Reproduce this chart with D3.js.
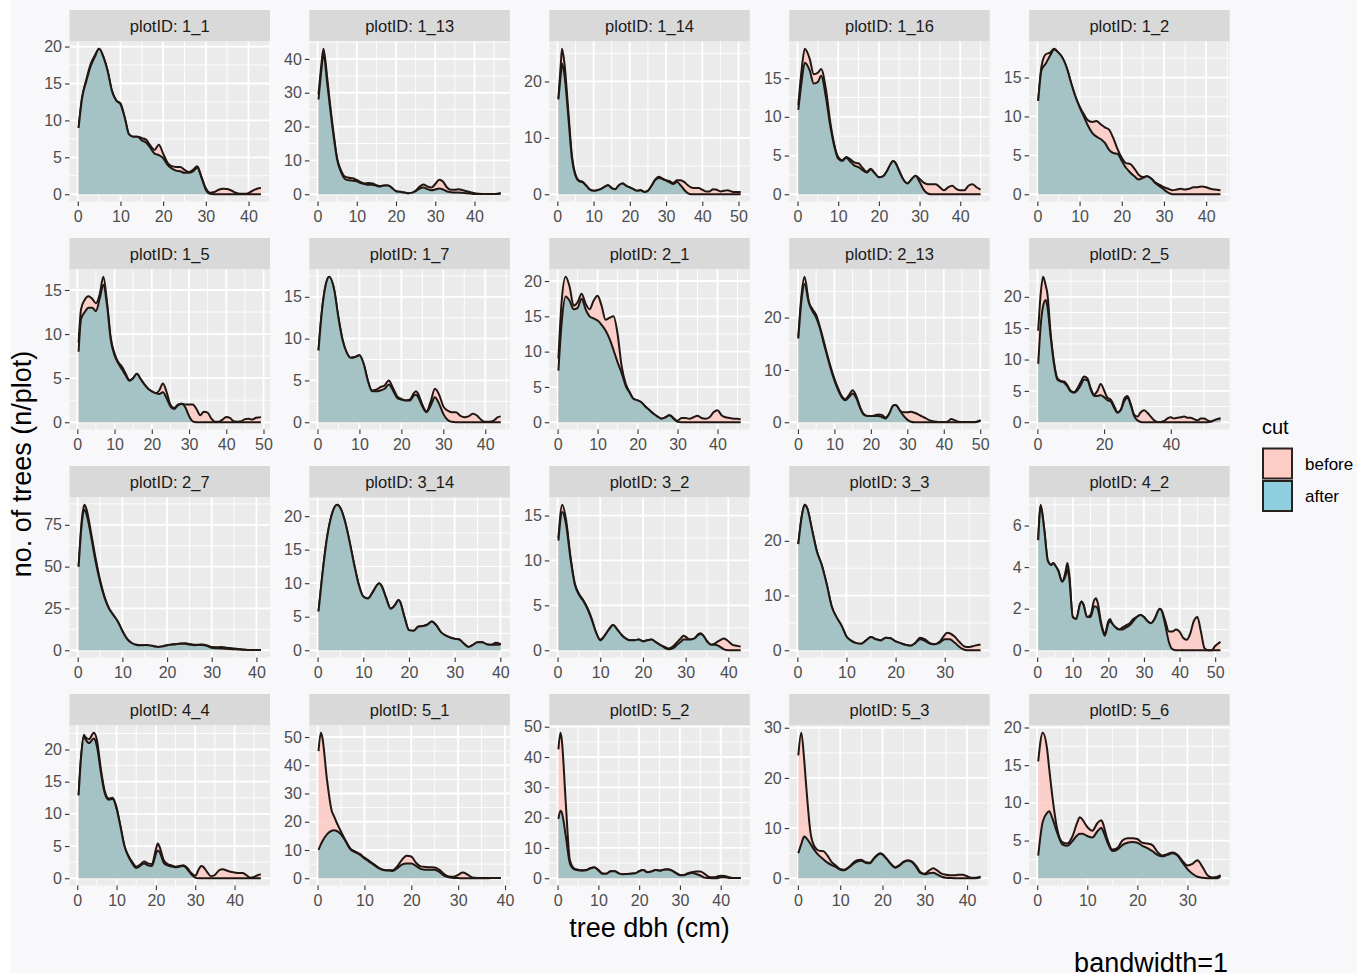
<!DOCTYPE html>
<html>
<head>
<meta charset="utf-8">
<script src="https://cdn.jsdelivr.net/npm/d3@7"></script>
<style>
  html, body { margin: 0; padding: 0; background: #ffffff; }
  svg { display: block; font-family: "Liberation Sans", Arial, Helvetica, sans-serif; }
</style>
</head>
<body>
<svg id="chart" width="1365" height="977"></svg>
<script>
// ---- facets -------------------------------------------------------------
const plotIDs = ["1_1", "1_13", "1_14", "1_16", "1_2",
                 "1_5", "1_7", "2_1", "2_13", "2_5",
                 "2_7", "3_14", "3_2", "3_3", "4_2",
                 "4_4", "5_1", "5_2", "5_3", "5_6"];
const cutLevels = ["before", "after"];

// axis breaks per facet (free scales)
const xBreaks = [
  [0,10,20,30,40], [0,10,20,30,40], [0,10,20,30,40,50], [0,10,20,30,40], [0,10,20,30,40],
  [0,10,20,30,40,50], [0,10,20,30,40], [0,10,20,30,40], [0,10,20,30,40,50], [0,20,40],
  [0,10,20,30,40], [0,10,20,30,40], [0,10,20,30,40], [0,10,20,30], [0,10,20,30,40,50],
  [0,10,20,30,40], [0,10,20,30,40], [0,10,20,30,40], [0,10,20,30,40], [0,10,20,30]
];
const yBreaks = [
  [0,5,10,15,20], [0,10,20,30,40], [0,10,20], [0,5,10,15], [0,5,10,15],
  [0,5,10,15], [0,5,10,15], [0,5,10,15,20], [0,10,20], [0,5,10,15,20],
  [0,25,50,75], [0,5,10,15,20], [0,5,10,15], [0,10,20], [0,2,4,6],
  [0,5,10,15,20], [0,10,20,30,40,50], [0,10,20,30,40,50], [0,10,20,30], [0,5,10,15,20]
];

// ---- density curves (trees per plot) on each facet's dbh grid -------------
const dbh_1_1 = [0.2,1,2,3,4,5,6,7,8,9, 10,11,12,13,14,15,16,17,18,19, 20,21,22,23,24,25,26,27,28,29, 30,31,32,33,34,35,36,37,38,39, 40,41,42,42.9];
const before_1_1 = [9,13,15.5,17.6,18.8,19.7,18.6,16.7,14,12.7, 12.3,10.4,8.1,7.8,7.8,7.6,7.4,6.6,6.0,6.7, 5.5,4.3,3.8,3.7,3.7,3.3,3.0,3.3,3.8,2.3, 0.8,0.2,0.3,0.6,0.75,0.7,0.5,0.2,0.05,0.05, 0.15,0.5,0.75,0.85];
const after_1_1 = [9,13,15.3,17.3,18.6,19.7,18.6,16.7,14,12.7, 12.2,10.4,8.1,7.8,7.8,7.3,7.0,6.3,5.5,5.3, 4.9,4.0,3.5,3.2,3.1,2.9,2.9,3.1,3.6,2.2, 0.6,0.05,0,0,0,0,0,0,0,0, 0,0,0,0];

const dbh_1_13 = [0.25,1,1.5,2.5,3,4,5,6,7,8, 9,10,11,12,13,14,15,16,17,18, 19,20,21,22,23,24,25,26,27,28, 29,30,31,32,33,34,35,36,37,38, 39,40,41,42,43,44,45,46,46.7];
const before_1_13 = [29.5,38.5,43,34,28.6,18.8,10.6,7,5.2,4.9, 4.7,4.2,3.6,3.2,3.3,3.2,2.7,2.4,2.6,2.6, 1.8,0.9,0.7,0.5,0.3,0.4,1.0,2.2,2.9,2.3, 2.0,3.0,4.3,3.7,2.0,1.3,1.3,1.5,1.2,0.9, 0.6,0.3,0.15,0.1,0.1,0.1,0.1,0.2,0.3];
const after_1_13 = [28,37,41.5,32.5,27.5,18,10.2,6.5,4.5,4.1, 4.0,3.8,3.3,3.0,2.8,2.8,2.5,2.3,2.6,2.6, 1.8,0.9,0.7,0.5,0.3,0.4,0.9,1.7,2.0,1.5, 1.2,1.4,1.7,1.4,0.8,0.6,0.5,0.5,0.4,0.3, 0.2,0.1,0.05,0.05,0.05,0.05,0.05,0.1,0.2];

const dbh_1_14 = [0.3,1,1.3,2,3,4,5,6,7,8, 9,10,11,12,13,14,15,16,17,18, 19,20,21,22,23,24,25,26,27,28, 29,30,31,32,33,34,35,36,37,38, 39,40,41,42,43,44,45,46,47,48, 49,50,50.6];
const before_1_14 = [17,23.5,25.8,23,15,7,3.5,2.4,2.2,1.5, 0.8,0.6,0.7,0.9,1.3,1.6,1.1,0.9,1.6,1.9, 1.5,1.2,0.9,0.6,0.7,0.4,0.6,1.5,2.6,3.1, 2.8,2.5,2.3,2.0,2.5,2.5,2.2,1.6,1.2,1.1, 1.1,0.8,0.5,0.5,0.9,0.8,0.5,0.6,0.7,0.5, 0.4,0.4,0.4];
const after_1_14 = [16.8,21.5,23.2,21,14,6.5,3.3,2.3,2.1,1.5, 0.8,0.6,0.7,0.9,1.3,1.6,1.1,0.9,1.6,1.9, 1.5,1.2,0.9,0.6,0.7,0.4,0.6,1.5,2.5,2.9, 2.7,2.4,2.1,1.8,2.2,1.6,0.8,0.2,0,0, 0,0,0,0,0,0,0,0,0,0, 0,0,0];

const dbh_1_16 = [0.2,1,1.8,3,4,5,5.8,7,8,9, 10,11,12,13,14,15,16,17,18,19, 20,21,22,23,23.5,24,25,26,27,28, 29,30,31,32,33,34,35,36,37,38, 39,40,41,42,43,44,45];
const before_1_16 = [11.5,16,18.8,17.5,15.5,15.7,16.2,13.5,9.5,6.5, 4.8,4.4,4.8,4.5,4.1,4.0,3.4,2.9,3.3,2.7, 2.2,2.3,3.0,4.0,4.3,4.1,3.0,1.9,1.4,1.9, 2.4,2.0,1.5,1.3,1.3,1.3,0.9,0.5,0.9,1.1, 0.7,0.5,0.5,1.1,1.3,0.9,0.6];
const after_1_16 = [10.9,14.5,17,16,14.3,14.5,15.3,12.5,9,6.3, 4.6,4.3,4.7,4.2,3.7,3.5,3.1,2.8,3.2,2.7, 2.2,2.3,3.0,4.0,4.3,4.1,3.0,1.9,1.4,1.9, 2.4,1.6,0.6,0.1,0,0,0,0,0,0, 0,0,0,0,0,0,0];

const dbh_1_2 = [0.2,1,2,3,4,5,6,7,8,9, 10,11,12,13,14,15,16,17,18,19, 20,21,22,23,24,25,26,27,28,29, 30,31,32,33,34,35,36,37,38,39, 40,41,42,43.4];
const before_1_2 = [12,16.5,18.0,18.2,18.7,18.2,17.5,16.2,14.3,12.6, 11.3,10.3,9.5,9.3,9.4,9.0,8.6,8.3,7.2,5.8, 4.7,4.0,3.9,3.3,2.5,2.2,2.3,2.0,1.5,1.2, 0.9,0.7,0.5,0.6,0.7,0.6,0.7,0.9,0.9,1.0, 0.9,0.7,0.6,0.5];
const after_1_2 = [12,16.0,16.8,17.8,18.6,18.2,17.5,16.2,14.3,12.6, 11.2,10.0,8.8,7.9,7.4,7.1,6.6,5.7,5.3,5.2, 4.3,3.4,2.8,2.3,1.9,2.1,2.3,2.0,1.4,1.0, 0.6,0.2,0,0,0,0,0,0,0,0, 0,0,0,0];

const dbh_1_5 = [0.35,1,2,3,4,5,6,7,8,9, 10,11,12,13,14,15,16,17,18,19, 20,21,22,23,24,25,26,27,28,29, 30,31,32,33,34,35,36,37,38,39, 40,41,42,43,44,45,46,47,48,49, 49.3];
const before_1_5 = [9,12.8,13.9,14.3,14.0,13.5,14.5,16.5,13.5,9.5, 7.8,6.8,6.3,5.5,4.8,5.0,5.5,4.9,4.3,3.8, 3.5,3.3,3.6,4.4,3.4,2.0,1.6,2.0,2.1,2.0, 2.0,2.0,1.5,0.8,1.2,1.1,0.4,0.05,0.05,0.3, 0.6,0.5,0.1,0.05,0.1,0.35,0.4,0.3,0.5,0.55, 0.6];
const after_1_5 = [8,11.7,12.5,13.0,13.0,12.6,14,15.6,13.2,9.3, 7.6,6.7,6.0,5.3,4.7,5.0,5.5,4.9,4.3,3.8, 3.5,3.3,3.2,3.4,2.7,1.8,1.5,1.9,2.1,1.7, 0.7,0.1,0,0,0,0,0,0,0,0, 0,0,0,0,0,0,0,0,0,0, 0];

const dbh_1_7 = [0.25,1,2,2.8,4,5,6,7,8,9, 10,11,12,13,14,15,16,17,18,19, 20,21,22,23,23.5,24,25,26,27,28, 29,30,31,32,33,34,35,36,37,38, 39,40,41,42,43,43.7];
const before_1_7 = [8.6,13,16.5,17.4,15.8,12.5,9.8,8.3,7.7,7.8, 8.0,7.0,5.0,3.8,3.9,4.2,4.4,5.0,4.1,3.1, 2.8,2.6,2.7,3.5,3.7,3.4,2.1,1.3,2.5,4.0, 3.3,1.9,1.4,1.2,1.2,0.8,0.6,0.7,1.0,0.8, 0.3,0.05,0.05,0.2,0.6,0.7];
const after_1_7 = [8.6,13,16.5,17.4,15.8,12.5,9.8,8.3,7.7,7.8, 8.0,7.0,5.0,3.7,3.7,3.8,4.0,4.5,3.8,2.9, 2.7,2.6,2.6,3.2,3.3,3.0,1.9,1.2,2.0,3.0, 2.2,1.0,0.3,0.05,0,0,0,0,0,0, 0,0,0,0,0,0];

const dbh_2_1 = [0.2,1,2,3,4,5,6,7,8,9, 10,11,12,13,14,15,16,17,18,19, 20,21,22,23,24,25,26,27,28,29, 30,31,32,33,34,35,36,37,38,39, 40,41,42,43,44,45,45.8];
const before_2_1 = [9,17,20.6,19.2,16.5,17.0,18.2,16.8,16.0,17.2, 17.9,16.5,14.5,14.8,15.0,12.5,8.0,5.5,4.3,3.3, 3.1,2.8,2.2,1.7,1.2,0.8,0.5,0.7,1.0,0.6, 0.2,0.6,0.6,0.5,0.7,0.9,0.6,0.5,0.7,1.4, 1.7,1.0,0.7,0.6,0.5,0.5,0.4];
const after_2_1 = [7.3,14,17.8,17.2,16.0,16.2,17.5,16.0,15.0,14.7, 14.4,13.8,13.0,11.8,10.2,8.5,7.0,5.2,4.2,3.3, 3.1,2.8,2.2,1.7,1.2,0.8,0.5,0.7,1.0,0.5, 0.05,0,0,0,0,0,0,0,0,0, 0,0,0,0,0,0,0];

const dbh_2_13 = [0.1,1,1.8,3,4,5,6,7,8,9, 10,11,12,13,14,15,16,17,18,19, 20,21,22,23,24,25,26,26.5,27,28, 29,30,31,32,33,34,35,36,37,38, 39,40,41,42,43,44,45,46,47,48, 49,50.1];
const before_2_13 = [16.2,24.5,27.8,23,21.6,20.5,18.3,15.7,13,10.5, 8.3,6.5,5.0,4.4,5.2,6.1,5.0,3.0,1.6,1.2, 1.2,1.3,1.5,1.4,0.9,1.5,3.0,3.3,3.2,2.2, 1.9,1.9,2.0,1.8,1.5,1.1,0.8,0.4,0.2,0.1, 0.05,0.05,0.1,0.6,0.4,0.1,0.05,0.05,0.05,0.05, 0.1,0.4];
const after_2_13 = [16,23.5,26.4,22.8,21.2,20,18,15.3,12.7,10.2, 8,6.2,4.8,4.2,4.8,5.5,4.6,2.8,1.5,1.2, 1.2,1.2,1.2,1.0,0.7,1.6,3.1,3.3,3.2,2.2, 1.2,0.5,0.1,0,0,0,0,0,0,0, 0,0,0,0,0,0,0,0,0,0, 0.05,0.3];

const dbh_2_5 = [0.25,1,1.7,2.5,3,4,5,6,7,8, 9,10,11,12,13,14,15,16,17,18, 19,20,21,22,23,24,25,26,27,28, 29,30,31,32,33,34,35,36,37,38, 39,40,41,42,43,44,45,46,47,48, 49,50,51,52,53,54,54.9];
const before_2_5 = [14.6,20.5,23.2,21.8,20.5,14,9.5,7.0,6.6,6.5, 5.9,5.0,4.8,5.4,6.4,7.3,7.0,5.4,4.4,5.0, 6.1,5.1,3.9,3.6,2.6,1.6,2.0,3.7,4.2,2.9, 1.2,0.9,1.6,1.9,1.5,0.9,0.3,0.05,0.05,0.2, 0.6,0.8,0.6,0.7,0.8,0.9,0.7,0.7,0.5,0.3, 0.6,0.6,0.3,0.1,0.3,0.5,0.6];
const after_2_5 = [9.3,15.5,18.5,19.5,18.5,13.5,9.2,6.8,6.5,6.3, 5.7,4.9,4.7,5.1,5.9,6.8,6.7,5.2,4.2,4.2, 4.3,4.0,3.5,3.3,2.3,1.5,1.9,3.3,3.9,2.7, 1.0,0.3,0.05,0,0,0,0,0,0,0, 0,0,0,0,0,0,0,0,0,0, 0,0,0,0.1,0.3,0.5,0.6];

const dbh_2_7 = [0.2,1,1.5,2,3,4,5,6,7,8, 9,10,11,12,13,14,15,16,17,18, 19,20,21,22,23,24,25,26,27,28, 29,30,31,32,33,34,35,36,37,38, 39,40,41];
const before_2_7 = [50,80,87,84,70,55,42,32,25,21, 17,11.5,7,4.5,3.3,3.0,3.1,2.9,2.4,2.0, 2.3,3.0,3.5,3.8,4.0,4.2,3.8,3.3,3.3,3.5, 2.8,1.9,1.8,1.9,1.6,1.3,1.1,0.8,0.4,0.2, 0.1,0.1,0.1];
const after_2_7 = [50,78,84,81,68,53,41,31.5,25,21, 17,11.5,7,4.5,3.3,3.0,3.1,2.9,2.4,2.0, 2.3,3.0,3.3,3.6,3.8,3.8,3.4,3.0,3.1,3.2, 2.5,1.5,1.2,1.1,0.9,0.7,0.6,0.5,0.3,0.2, 0.1,0.1,0.1];

const dbh_3_14 = [0.2,1,2,3,4.3,5,6,7,8,9, 10,11,12,13,13.5,14,15,16,17,17.7, 18,19,20,21,22,23,24,25,26,27, 28,29,30,31,32,33,34,35,36,37, 38,39,40.1];
const before_3_14 = [5.8,11,16.5,20,21.7,21.2,19.2,16.2,12.8,9.8, 8.0,7.7,8.6,9.7,10.0,9.6,7.8,6.2,6.8,7.5, 7.3,5.0,3.0,2.9,3.5,3.6,3.8,4.3,3.7,2.7, 2.2,1.9,1.7,1.6,1.0,0.5,0.8,1.2,1.2,0.9, 0.8,1.1,0.9];
const after_3_14 = [5.8,11,16.5,20,21.7,21.2,19.2,16.2,12.8,9.8, 8.0,7.7,8.6,9.7,10.0,9.6,7.8,6.2,6.8,7.5, 7.3,5.0,3.0,2.9,3.5,3.6,3.8,4.3,3.7,2.7, 2.2,1.9,1.7,1.6,1.0,0.5,0.8,1.2,1.2,0.9, 0.8,0.8,0.9];

const dbh_3_2 = [0.2,1.1,2,3,4,5,6,7,8,9, 10,11,12,13,14,15,16,17,18,19, 20,21,22,23,24,25,26,27,28,29, 29.5,30,31,32,33,33.5,34,35,36,37, 38,39,40,41,42,42.9];
const before_3_2 = [12.5,16.2,14.5,10.5,7.5,6.3,5.6,4.7,3.5,2.0, 1.2,1.6,2.3,2.8,2.3,1.7,1.3,1.1,1.1,1.2, 1.0,1.1,1.2,0.9,0.6,0.4,0.2,0.4,0.9,1.4, 1.6,1.5,1.2,1.3,1.8,1.9,1.7,1.0,0.6,0.8, 1.1,1.3,1.0,0.6,0.5,0.4];
const after_3_2 = [12.2,15.4,14.0,10.3,7.4,6.2,5.5,4.6,3.4,2.0, 1.1,1.6,2.3,2.8,2.3,1.7,1.3,1.1,1.1,1.2, 1.0,1.1,1.2,0.9,0.6,0.3,0.1,0.2,0.6,1.0, 1.2,1.2,1.2,1.3,1.7,1.8,1.7,1.0,0.6,0.6, 0.4,0.1,0,0,0,0];

const dbh_3_3 = [0.2,1,1.5,2,3,4,5,6,7,8, 9,10,11,12,13,14,15,16,17,18, 19,20,21,22,23,24,25,26,27,28, 29,30,30.5,31,32,33,34,35,36,37, 37.3];
const before_3_3 = [19.4,25,26.6,26,22,18,15.5,12,8,6, 4.5,2.5,1.7,1.3,1.2,1.8,2.4,2.0,1.8,2.3, 2.2,1.6,1.3,1.0,0.8,1.3,2.3,2.0,1.3,1.1, 1.6,2.8,3.2,3.1,2.5,1.5,0.7,0.6,0.8,1.0, 1.0];
const after_3_3 = [19.4,25,26.6,26,22,18,15.5,12,8,6, 4.5,2.5,1.7,1.3,1.2,1.8,2.4,2.0,1.8,2.3, 2.2,1.6,1.3,1.0,0.8,1.3,2.0,1.7,1.2,1.1, 1.4,2.0,2.0,2.0,1.4,0.6,0.1,0,0,0, 0];

const dbh_4_2 = [0.3,1,2,3,4,4.5,5,6,7,8, 8.5,9,10,11,12,12.5,13,14,15,16, 16.5,17,18,19,20,20.5,21,22,23,24, 25,26,27,28,29,30,31,32,33,34, 34.5,35,36,37,38,39,40,41,42,43, 44,45,46,47,48,49,50,51.5];
const before_4_2 = [5.3,7.0,5.8,4.3,4.1,4.2,4.1,3.8,3.3,3.8, 4.2,3.7,1.6,1.5,2.2,2.35,2.2,1.6,1.7,2.4, 2.5,2.3,1.3,0.8,1.4,1.5,1.3,1.1,1.0,1.1, 1.2,1.3,1.5,1.6,1.7,1.6,1.4,1.3,1.5,1.9, 2.0,1.9,1.4,0.9,0.9,1.0,0.9,0.6,0.5,0.8, 1.4,1.6,0.9,0.1,0,0,0.2,0.4];
const after_4_2 = [5.3,6.9,5.8,4.3,4.1,4.2,4.1,3.8,3.3,3.6, 3.9,3.5,1.6,1.5,2.2,2.35,2.2,1.6,1.6,2.1, 2.1,2.0,1.2,0.7,1.3,1.4,1.3,1.1,1.0,1.0, 1.1,1.2,1.4,1.6,1.7,1.6,1.4,1.3,1.5,1.9, 2.0,1.9,1.2,0.4,0.05,0,0,0,0,0, 0,0,0,0,0,0,0,0];

const dbh_4_4 = [0.35,1,1.7,2,3,4.2,5,6,7,8, 9,10,11,12,13,14,15,16,17,18, 19,20,20.5,21,22,23,24,25,26,27, 28,29,30,31,31.5,32,33,34,35,36, 37,38,39,40,41,42,43,44,45,46, 46.7];
const before_4_4 = [12.9,19,22.3,22,21.6,22.6,21.5,17,13.5,12.4, 12.5,11.0,8,5,3.5,2.5,1.8,2.1,2.6,2.3, 2.2,4.5,5.4,4.8,2.8,2.2,2.0,1.8,1.9,2.0, 1.6,0.8,0.4,1.5,1.9,1.8,1.0,0.3,0.5,1.2, 1.4,1.2,1.0,0.9,0.8,0.8,0.5,0.1,0.2,0.5, 0.6];
const after_4_4 = [12.9,19,22,21.7,21,21.7,20.5,16.5,13.2,12.2, 12.3,10.8,8,5,3.4,2.3,1.6,1.9,2.3,2.0, 1.9,3.8,4.3,4.0,2.4,2.0,1.8,1.7,1.8,1.9, 1.4,0.6,0.1,0,0,0,0,0,0,0, 0,0,0,0,0,0,0,0,0,0, 0];

const dbh_5_1 = [0.2,0.7,1,2,3,3.5,4,5,6,7, 8,9,10,11,12,13,14,15,16,17, 18,19,20,21,22,23,24,25,26,27, 28,29,30,31,32,33,34,35,36,37, 38,39.1];
const before_5_1 = [45,51.5,50,35,24,22,20,16.5,13.3,10.5, 9.5,8.6,7.3,6.2,5.0,3.8,3.0,2.8,2.8,4.2, 6.5,8.0,7.7,5.5,4.2,4.0,3.9,3.8,3.0,1.5, 0.6,0.5,1.2,2.0,1.3,0.3,0.1,0.05,0.05,0.05, 0.05,0.1];
const after_5_1 = [10,12,13,15.5,16.8,17,16.8,15.5,13,10.2, 9.2,8.3,7.0,5.9,4.7,3.6,2.9,2.7,2.6,3.6, 4.8,5.2,5.2,4.4,3.3,3.0,3.0,3.0,2.2,0.9, 0.3,0.1,0.05,0,0,0,0,0,0,0.05, 0.05,0.1];

const dbh_5_2 = [0.2,0.7,1,2,3,4,5,6,7,8, 9,10,11,12,13,14,15,16,17,18, 19,20,21,22,23,24,25,26,27,28, 29,30,31,32,33,34,35,36,37,38, 39,40,41,42,43,44,44.9];
const before_5_2 = [42.5,48,46,25,6,3.3,2.8,2.6,2.7,3.3, 3.6,2.7,1.6,1.5,2.3,2.3,1.6,1.3,1.4,1.5, 1.6,2.3,2.7,2.0,2.2,2.7,2.5,2.8,3.0,2.6, 1.8,1.1,1.1,1.7,2.0,2.2,2.2,1.5,0.5,0.3, 0.5,0.8,0.7,0.3,0.1,0.1,0.1];
const after_5_2 = [19.6,22.3,21.8,14,5,3.0,2.6,2.5,2.6,3.2, 3.5,2.6,1.5,1.5,2.3,2.3,1.6,1.3,1.4,1.5, 1.6,2.3,2.7,2.0,2.2,2.7,2.5,2.8,2.9,2.5, 1.7,1.0,1.0,1.5,1.7,1.4,0.9,0.2,0.05,0, 0,0.3,0.3,0.1,0.05,0.05,0.05];

const dbh_5_3 = [0.1,0.8,1.5,2,3,4,5,6,7,8, 9,10,11,12,13,14,15,16,17,18, 19,19.5,20,21,22,23,24,25,26,27, 28,29,30,31,32,33,34,35,36,37, 38,39,40,41,42,43.2];
const before_5_3 = [24.5,29,23.5,18,9,6.2,5.5,5.4,4.5,3.2, 2.5,1.8,1.7,2.2,3.0,3.6,3.7,3.2,3.1,4.0, 4.8,5.0,4.8,3.9,2.9,2.2,2.6,3.3,3.6,3.3, 2.4,1.2,0.9,1.5,2.0,1.5,0.9,0.7,0.6,0.6, 0.7,0.7,0.4,0.1,0.1,0.3];
const after_5_3 = [5,6.8,8.3,8.0,6.8,5.5,4.5,3.8,3.1,2.6, 2.2,1.7,1.6,2.1,2.8,3.3,3.5,3.1,3.0,3.9, 4.7,4.9,4.7,3.8,2.8,2.1,2.5,3.2,3.5,3.2, 2.2,1.0,0.8,1.0,1.1,0.7,0.3,0.1,0.05,0, 0,0,0,0,0,0.2];

const dbh_5_6 = [0.2,1.1,2,2.4,3,4,5,6,7,8, 8.5,9,10,11,12,12.8,13,14,15,16, 17,18,19,20,21,22,23,24,25,26, 27,28,29,30,31,32,33,34,35,36, 36.6];
const before_5_6 = [15.5,19.3,17,14.5,11,6.5,4.8,4.6,5.5,7.4, 8.1,7.8,6.8,6.3,7.3,7.7,7.5,5.2,3.8,4.0, 5.0,5.3,5.3,5.2,4.7,4.6,4.4,3.5,3.0,3.2, 3.4,3.1,2.3,1.7,1.9,2.4,1.5,0.4,0.1,0.2, 0.4];
const after_5_6 = [3.0,7.5,8.7,8.9,8.0,6.0,4.5,4.3,4.9,5.7, 5.9,5.9,5.6,5.4,6.2,6.7,6.5,4.8,3.6,3.8, 4.4,4.7,4.8,4.7,4.3,4.0,3.6,3.1,2.9,3.1, 3.3,3.0,2.1,1.2,0.6,0.2,0.05,0,0,0, 0.3];

const dbhGrids = [dbh_1_1, dbh_1_13, dbh_1_14, dbh_1_16, dbh_1_2, dbh_1_5, dbh_1_7, dbh_2_1, dbh_2_13, dbh_2_5,
                  dbh_2_7, dbh_3_14, dbh_3_2, dbh_3_3, dbh_4_2, dbh_4_4, dbh_5_1, dbh_5_2, dbh_5_3, dbh_5_6];
const beforeSeries = [before_1_1, before_1_13, before_1_14, before_1_16, before_1_2, before_1_5, before_1_7, before_2_1, before_2_13, before_2_5,
                      before_2_7, before_3_14, before_3_2, before_3_3, before_4_2, before_4_4, before_5_1, before_5_2, before_5_3, before_5_6];
const afterSeries = [after_1_1, after_1_13, after_1_14, after_1_16, after_1_2, after_1_5, after_1_7, after_2_1, after_2_13, after_2_5,
                     after_2_7, after_3_14, after_3_2, after_3_3, after_4_2, after_4_4, after_5_1, after_5_2, after_5_3, after_5_6];

// ---- layout & style ------------------------------------------------------
const svg = d3.select("#chart");
const plotBg = "#f8f8fb";
const fills = { before: "rgba(253,203,196,0.86)", after: "rgba(150,192,196,0.86)" };
const keyFills = { before: "#fdcdc6", after: "#8fcfe0" };
const lineColor = "#211611";

const colLeft = 69.5, colPitch = 239.9, panelW = 200.5;
const rowTop = 10, rowPitch = 228, stripH = 31.5, panelH = 160;

svg.append("rect").attr("x", 10).attr("y", 0).attr("width", 1347).attr("height", 973).attr("fill", plotBg);

function minorBreaks(b, lim) {
  const step = b[1] - b[0];
  const ext = [b[0] - step, ...b, b[b.length - 1] + step];
  const out = [];
  for (let k = 0; k < ext.length - 1; k++) {
    const m = (ext[k] + ext[k + 1]) / 2;
    if (m >= lim[0] && m <= lim[1]) out.push(m);
  }
  return out;
}

plotIDs.forEach((id, i) => {
  const r = Math.floor(i / 5), c = i % 5;
  const px = colLeft + c * colPitch;
  const st = rowTop + r * rowPitch;
  const py = st + stripH;

  const dbh = dbhGrids[i];
  const series = { before: beforeSeries[i], after: afterSeries[i] };
  const lo = dbh[0], hi = dbh[dbh.length - 1], span = hi - lo;
  const ymax = d3.max([...series.before, ...series.after]);

  const x = d3.scaleLinear().domain([lo - 0.05 * span, hi + 0.05 * span]).range([px, px + panelW]);
  const y = d3.scaleLinear().domain([-0.05 * ymax, 1.05 * ymax]).range([py + panelH, py]);

  const g = svg.append("g").attr("class", "facet");

  // strip
  g.append("rect").attr("x", px).attr("y", st).attr("width", panelW).attr("height", stripH).attr("fill", "#d9d9d9");
  g.append("text").attr("x", px + panelW / 2).attr("y", st + stripH / 2 + 6)
    .attr("text-anchor", "middle").attr("font-size", 16.5).attr("fill", "#1a1a1a")
    .text("plotID: " + id);

  // panel background + grid
  g.append("rect").attr("x", px).attr("y", py).attr("width", panelW).attr("height", panelH).attr("fill", "#ebebeb");
  const xd = x.domain(), yd = y.domain();
  const xMaj = xBreaks[i].filter(v => v >= xd[0] && v <= xd[1]);
  const yMaj = yBreaks[i].filter(v => v >= yd[0] && v <= yd[1]);
  const grid = g.append("g").attr("stroke", "#ffffff");
  minorBreaks(xBreaks[i], xd).forEach(v => grid.append("line").attr("x1", x(v)).attr("x2", x(v)).attr("y1", py).attr("y2", py + panelH).attr("stroke-width", 0.9));
  minorBreaks(yBreaks[i], yd).forEach(v => grid.append("line").attr("y1", y(v)).attr("y2", y(v)).attr("x1", px).attr("x2", px + panelW).attr("stroke-width", 0.9));
  xMaj.forEach(v => grid.append("line").attr("x1", x(v)).attr("x2", x(v)).attr("y1", py).attr("y2", py + panelH).attr("stroke-width", 1.8));
  yMaj.forEach(v => grid.append("line").attr("y1", y(v)).attr("y2", y(v)).attr("x1", px).attr("x2", px + panelW).attr("stroke-width", 1.8));

  // density areas with upper outline
  const area = d3.area().x((d, k) => x(dbh[k])).y0(y(0)).y1(d => y(d)).curve(d3.curveMonotoneX);
  const line = d3.line().x((d, k) => x(dbh[k])).y(d => y(d)).curve(d3.curveMonotoneX);
  cutLevels.forEach(cut => {
    g.append("path").attr("d", area(series[cut])).attr("fill", fills[cut]);
    g.append("path").attr("d", line(series[cut])).attr("fill", "none")
      .attr("stroke", lineColor).attr("stroke-width", 2).attr("stroke-linejoin", "round");
  });

  // axes
  const yAxis = g.append("g").attr("transform", `translate(${px},0)`)
    .call(d3.axisLeft(y).tickValues(yMaj).tickSize(4.5).tickPadding(3).tickFormat(d3.format("d")));
  const xAxis = g.append("g").attr("transform", `translate(0,${py + panelH})`)
    .call(d3.axisBottom(x).tickValues(xMaj).tickSize(4.5).tickPadding(5).tickFormat(d3.format("d")));
  [xAxis, yAxis].forEach(a => {
    a.select(".domain").remove();
    a.selectAll(".tick line").attr("stroke", "#333333").attr("stroke-width", 1.1);
    a.selectAll(".tick text").attr("fill", "#4d4d4d").attr("font-size", 16)
      .attr("font-family", "'Liberation Sans', Arial, sans-serif");
  });
});

// axis titles
svg.append("text").attr("transform", "translate(31,464) rotate(-90)")
  .attr("text-anchor", "middle").attr("font-size", 27).attr("fill", "#000")
  .text("no. of trees (n/plot)");
svg.append("text").attr("x", 649.5).attr("y", 937)
  .attr("text-anchor", "middle").attr("font-size", 27).attr("fill", "#000")
  .text("tree dbh (cm)");
svg.append("text").attr("x", 1228).attr("y", 972)
  .attr("text-anchor", "end").attr("font-size", 27).attr("fill", "#000")
  .text("bandwidth=1");

// legend
const leg = svg.append("g");
leg.append("text").attr("x", 1262).attr("y", 434).attr("font-size", 20).attr("fill", "#000").text("cut");
cutLevels.forEach((cut, k) => {
  const ky = 448.5 + k * 32.5;
  leg.append("rect").attr("x", 1263).attr("y", ky).attr("width", 29).attr("height", 30)
    .attr("fill", keyFills[cut]).attr("stroke", "#2a2220").attr("stroke-width", 2);
  leg.append("text").attr("x", 1305).attr("y", ky + 21).attr("font-size", 17).attr("fill", "#000").text(cut);
});
</script>
</body>
</html>
